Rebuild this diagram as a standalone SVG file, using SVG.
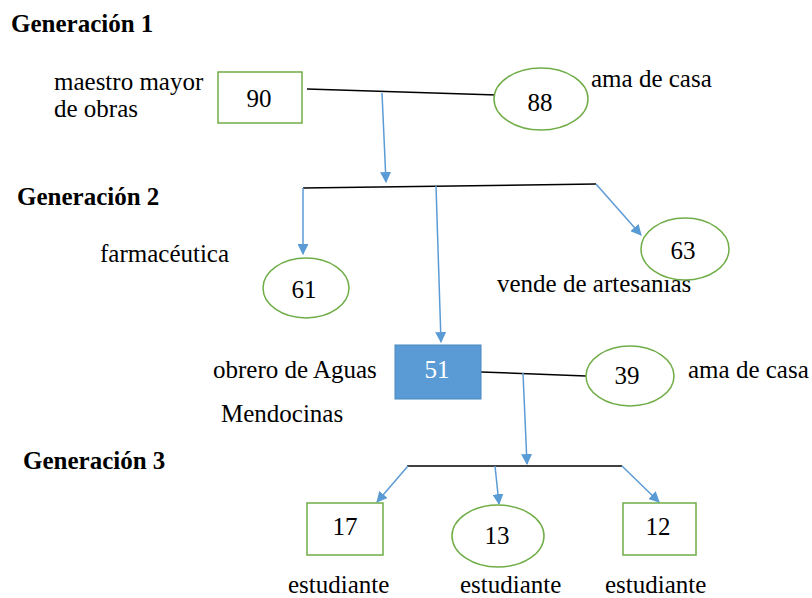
<svg xmlns="http://www.w3.org/2000/svg" width="812" height="598" viewBox="0 0 812 598">
<style>
text{font-family:"Liberation Serif","Times New Roman","DejaVu Serif",serif;font-size:25px;fill:#000}
.h{font-weight:bold}
.c{text-anchor:middle}
.w{fill:#fff}
.n{fill:#fff;stroke:#70AD47;stroke-width:1.5}
.f{fill:#5B9BD5;stroke:#4A88C0;stroke-width:1}
.k{stroke:#000;stroke-width:1.5;fill:none}
.b{stroke:#5B9BD5;stroke-width:1.5;fill:none}
</style>
<defs>
<marker id="ah" viewBox="0 0 10 10" refX="9" refY="5" markerWidth="11" markerHeight="11" markerUnits="userSpaceOnUse" orient="auto">
<path d="M0,0 L10,5 L0,10 z" fill="#5B9BD5"/>
</marker>
</defs>
<g id="labels">
<text class="h" x="11" y="32">Generación 1</text>
<text class="h" x="17" y="205">Generación 2</text>
<text class="h" x="23" y="469">Generación 3</text>
<text x="54" y="90">maestro mayor</text>
<text x="54" y="117">de obras</text>
<text x="591" y="87">ama de casa</text>
<text x="100" y="262">farmacéutica</text>
<text x="497" y="292">vende de artesanias</text>
<text x="213" y="378">obrero de Aguas</text>
<text x="221" y="422">Mendocinas</text>
<text x="688" y="378">ama de casa</text>
<text x="288" y="593">estudiante</text>
<text x="460" y="593">estudiante</text>
<text x="605" y="593">estudiante</text>
</g>
<g id="connectors">
<path class="k" d="M307,89 L497,95"/>
<path class="b" d="M382,93 L386,182" marker-end="url(#ah)"/>
<path class="k" d="M303,188 L596,184"/>
<path class="b" d="M303,188 L303,254" marker-end="url(#ah)"/>
<path class="b" d="M436,186 L441,342" marker-end="url(#ah)"/>
<path class="b" d="M596,184 L641,235" marker-end="url(#ah)"/>
<path class="k" d="M481,372 L586,376"/>
<path class="b" d="M523,373 L527,464" marker-end="url(#ah)"/>
<path class="k" d="M407,466 L622,466"/>
<path class="b" d="M408,466 L377,502" marker-end="url(#ah)"/>
<path class="b" d="M495,466 L499,504" marker-end="url(#ah)"/>
<path class="b" d="M622,466 L659,502" marker-end="url(#ah)"/>
</g>
<g id="n90"><rect class="n" x="218" y="72" width="84" height="51"/><text class="c" x="259" y="107">90</text></g>
<g id="n88"><ellipse class="n" cx="541" cy="99" rx="47" ry="31"/><text class="c" x="540" y="111">88</text></g>
<g id="n61"><ellipse class="n" cx="306" cy="288" rx="43" ry="30"/><text class="c" x="304" y="298">61</text></g>
<g id="n63"><ellipse class="n" cx="685" cy="249" rx="44" ry="31"/><text class="c" x="683" y="259">63</text></g>
<g id="n51"><rect class="f" x="395" y="345" width="86" height="54"/><text class="c w" x="437" y="378">51</text></g>
<g id="n39"><ellipse class="n" cx="630" cy="376" rx="44" ry="30"/><text class="c" x="627" y="384">39</text></g>
<g id="n17"><rect class="n" x="307" y="503" width="76" height="52"/><text class="c" x="345" y="535">17</text></g>
<g id="n13"><ellipse class="n" cx="498" cy="536" rx="46" ry="31"/><text class="c" x="497" y="544">13</text></g>
<g id="n12"><rect class="n" x="623" y="503" width="73" height="52"/><text class="c" x="658" y="535">12</text></g>
</svg>
